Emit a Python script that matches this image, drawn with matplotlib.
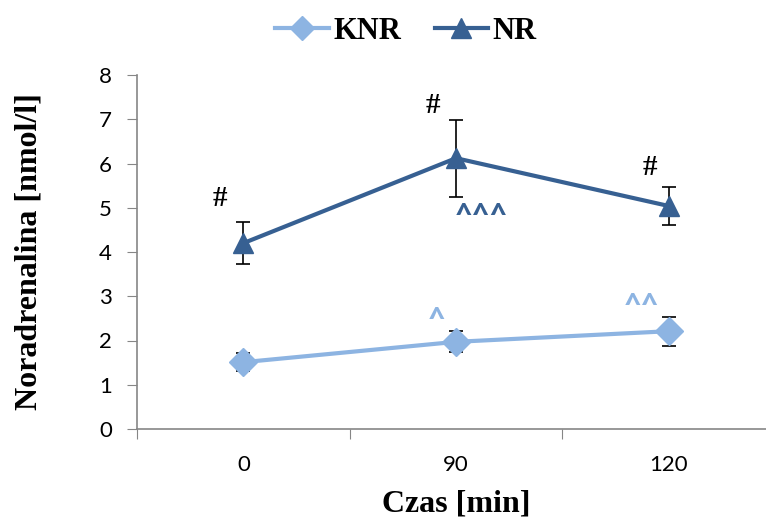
import matplotlib.pyplot as plt
from matplotlib.lines import Line2D

categories = ["0", "90", "120"]
knr = [1.51, 1.97, 2.21]
knr_err = [0.21, 0.24, 0.33]
nr = [4.20, 6.12, 5.04]
nr_err = [0.48, 0.87, 0.42]

knr_color = "#8DB4E2"
nr_color = "#376092"
axis_color = "#868686"

fig = plt.figure(figsize=(7.66, 5.18), dpi=100)
ax = fig.add_axes([137 / 766, 1 - 429 / 518, 638 / 766, 354 / 518])

x = list(range(len(categories)))
ax.errorbar(x, knr, yerr=knr_err, color=knr_color, lw=3.0, marker="D", ms=14,
            ecolor="black", elinewidth=1.2, capsize=5, capthick=1.2, zorder=3)
ax.errorbar(x, nr, yerr=nr_err, color=nr_color, lw=3.0, marker="^", ms=14,
            ecolor="black", elinewidth=1.2, capsize=5, capthick=1.2, zorder=3)

ax.set_xlim(-0.5, 2.5)
ax.set_ylim(0, 8)
ax.set_xticks([-0.5, 0.5, 1.5, 2.5])
ax.set_xticklabels([])
ax.set_xticks(x, minor=True)
ax.set_xticklabels(categories, minor=True)
ax.tick_params(axis="x", which="minor", length=0, pad=19)
ax.tick_params(axis="x", which="major", length=7, color=axis_color, direction="out")
ax.tick_params(axis="y", length=7, color=axis_color, direction="out", pad=11)
for lab in ax.get_xticklabels(minor=True) + ax.get_yticklabels():
    lab.set_fontfamily("Lato")
    lab.set_fontsize(16)
for side in ["top", "right"]:
    ax.spines[side].set_visible(False)
for side in ["left", "bottom"]:
    ax.spines[side].set_color(axis_color)
    ax.spines[side].set_linewidth(1.2)

serif = "Liberation Serif"
ax.set_xlabel("Czas [min]", fontfamily=serif, fontweight="bold", fontsize=23, labelpad=10)
ax.set_ylabel("Noradrenalina [nmol/l]", fontfamily=serif, fontweight="bold", fontsize=23, labelpad=40)

# significance marks
for px, py in [(-0.11, 5.22), (0.89, 7.30), (1.91, 5.92)]:
    ax.text(px, py, "#", fontfamily=serif, fontweight="bold", fontsize=21,
            ha="center", va="center")
ax.text(1.12, 4.61, "^^^", color=nr_color, fontfamily="Lato", fontweight="black",
        fontsize=22, ha="center", va="baseline")
ax.text(0.91, 2.25, "^", color=knr_color, fontfamily="Lato", fontweight="black",
        fontsize=22, ha="center", va="baseline")
ax.text(1.87, 2.58, "^^", color=knr_color, fontfamily="Lato", fontweight="black",
        fontsize=22, ha="center", va="baseline")

handles = [Line2D([], [], color=knr_color, lw=3.0, marker="D", ms=12),
           Line2D([], [], color=nr_color, lw=3.0, marker="^", ms=14)]
fig.legend(handles, ["KNR", "NR"], loc="center", bbox_to_anchor=(0.53, 0.94), ncol=2,
           frameon=False, prop={"family": serif, "weight": "bold", "size": 22},
           handlelength=1.75, handletextpad=0.15, columnspacing=1.1)

fig.savefig("out.png", dpi=100)
